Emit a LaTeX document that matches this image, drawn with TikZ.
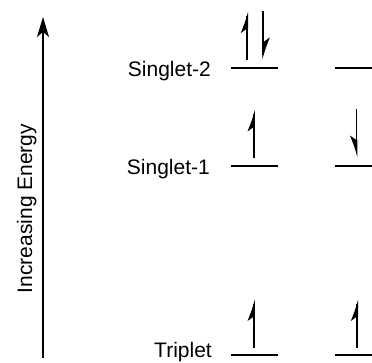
\documentclass[tikz,border=0pt]{standalone}
\usepackage{fontspec}
\setmainfont{Liberation Sans}
\usetikzlibrary{arrows.meta}
\tikzset{
  lvl/.style={line width=1.3pt},
  lbl/.style={font=\fontsize{21}{25}\selectfont, inner sep=0pt},
  spin/.pic={
    \draw[line width=1.7pt] (0,24) -- (0,-20);
    \fill (0.85,-24) .. controls (-2,-14) .. (-6.5,-2.5) -- (-0.85,-6.5) -- (0.85,-6.5) -- cycle;
  }
}
\begin{document}
\begin{tikzpicture}[x=1pt,y=-1pt]
\useasboundingbox (0,0) rectangle (372,362);
% energy axis
\coordinate (axbot) at (43,358);
\coordinate (axtop) at (43,17);
\draw[line width=1.3pt,-{Stealth[length=20pt,width=12pt,inset=5pt]}] (axbot) -- (axtop);
\node[lbl, rotate=90, anchor=base] (axlbl) at (32,208.5) {Increasing Energy};
% levels
\coordinate (s2a) at (231,68); \coordinate (s2b) at (278,68);
\coordinate (s2c) at (335,68); \coordinate (s2d) at (373,68);
\coordinate (s1a) at (231,166); \coordinate (s1b) at (278,166);
\coordinate (s1c) at (335,166); \coordinate (s1d) at (373,166);
\coordinate (ta) at (231,355); \coordinate (tb) at (278,355);
\coordinate (tc) at (335,355); \coordinate (td) at (373,355);
\draw[lvl] (s2a) -- (s2b); \draw[lvl] (s2c) -- (s2d);
\draw[lvl] (s1a) -- (s1b); \draw[lvl] (s1c) -- (s1d);
\draw[lvl] (ta) -- (tb); \draw[lvl] (tc) -- (td);
% labels
\node[lbl, anchor=base east] (ls2) at (211,76) {Singlet-2};
\node[lbl, anchor=base east] (ls1) at (210,174) {Singlet-1};
\node[lbl, anchor=base east] (lt) at (212,357.5) {Triplet};
% spins
\pic at (247.3,35.5) {spin};
\pic[rotate=180] at (263.3,35) {spin};
\pic at (254,134) {spin};
\pic[yscale=-1] at (356.5,133) {spin};
\pic at (254,323.5) {spin};
\pic at (357.3,323.5) {spin};
\end{tikzpicture}
\end{document}
